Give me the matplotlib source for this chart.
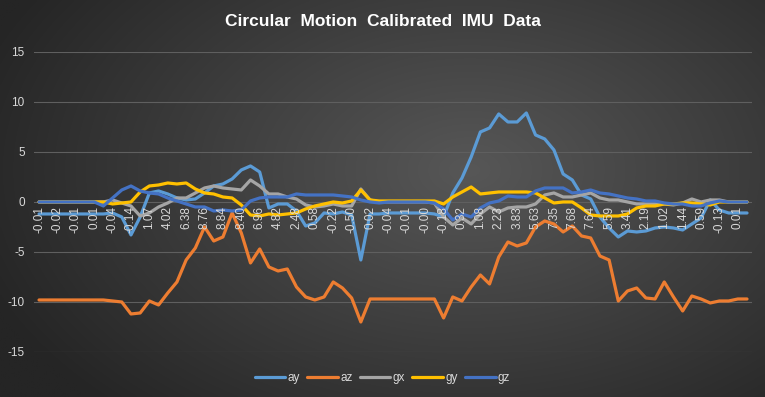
import numpy as np
import matplotlib
matplotlib.use("Agg")
import matplotlib.pyplot as plt

plt.rcParams['font.family'] = ['Liberation Sans', 'DejaVu Sans']

# ----------------------------
# Data
# ----------------------------
x_labels = ["-0.01", "-0.02", "-0.01", "0.01", "-0.04", "-0.14", "1.07", "4.02",
            "6.38", "8.76", "8.84", "8.40", "6.96", "4.82", "2.48", "0.58",
            "-0.22", "-0.50", "0.02", "-0.04", "-0.01", "-0.00", "-0.18", "0.32",
            "1.08", "2.23", "3.83", "5.63", "7.35", "7.68", "7.64", "5.59",
            "3.41", "2.19", "1.02", "1.44", "0.59", "-0.13", "0.01"]

ay = [-1.2, -1.2, -1.2, -1.2, -1.2, -1.2, -1.2, -1.2, -1.1, -1.5,
      -3.3, -1.5, 0.9, 1.1, 0.8, 0.4, 0.2, 0.3, 0.9, 1.6,
      1.8, 2.3, 3.2, 3.6, 3.0, -0.6, -0.2, -0.2, -0.9, -2.4,
      -2.1, -1.1, -1.2, -1.0, -1.3, -5.8, -1.2, -1.2, -1.1, -1.1,
      -1.1, -1.1, -1.1, -1.2, -1.5, 0.9, 2.4, 4.5, 7.0, 7.4,
      8.8, 8.0, 8.0, 8.9, 6.7, 6.3, 5.2, 2.8, 2.2, 0.7,
      0.3, -1.5, -2.6, -3.5, -2.9, -3.0, -2.9, -2.6, -2.5, -2.6,
      -2.8, -2.2, -1.6, 0.2, -0.8, -1.1, -1.1, -1.1]

az = [-9.8, -9.8, -9.8, -9.8, -9.8, -9.8, -9.8, -9.8, -9.9, -10.0,
      -11.2, -11.1, -9.9, -10.3, -9.1, -8.0, -5.8, -4.6, -2.5, -3.9,
      -3.5, -1.1, -3.1, -6.1, -4.7, -6.5, -6.9, -6.7, -8.5, -9.5,
      -9.8, -9.5, -8.0, -8.6, -9.6, -12.0, -9.7, -9.7, -9.7, -9.7,
      -9.7, -9.7, -9.7, -9.7, -11.6, -9.5, -9.9, -8.5, -7.3, -8.2,
      -5.5, -4.0, -4.4, -4.1, -2.5, -1.9, -2.2, -3.0, -2.4, -3.4,
      -3.6, -5.4, -5.8, -9.9, -8.9, -8.6, -9.6, -9.7, -8.0, -9.5,
      -10.9, -9.4, -9.7, -10.1, -9.9, -9.9, -9.7, -9.7]

gx = [0.0, 0.0, 0.0, 0.0, 0.0, 0.0, 0.0, 0.0, 0.2, -0.1,
      -0.4, -1.4, -1.1, -0.5, -0.1, 0.4, 0.4, 0.9, 1.4, 1.6,
      1.4, 1.3, 1.2, 2.2, 1.6, 0.8, 0.8, 0.5, 0.3, -0.3,
      -0.5, -0.4, -0.2, -0.4, -0.4, 1.3, 0.2, 0.0, 0.0, 0.0,
      0.0, 0.0, 0.0, -0.1, -1.5, -2.3, -1.6, -2.2, -1.2, -0.5,
      -1.0, -0.6, -0.5, -0.5, -0.2, 0.7, 0.9, 0.5, 0.5, 0.7,
      0.9, 0.4, 0.2, 0.2, 0.0, -0.2, -0.2, -0.2, -0.2, -0.3,
      -0.1, 0.3, 0.0, 0.2, 0.2, 0.0, 0.0, 0.0]

gy = [0.0, 0.0, 0.0, 0.0, 0.0, 0.0, 0.0, 0.0, -0.2, -0.1,
      0.0, 1.0, 1.6, 1.7, 1.9, 1.8, 1.9, 1.3, 0.9, 0.8,
      0.5, 0.4, -0.3, -1.3, -1.4, -1.2, -1.3, -1.2, -1.1, -0.7,
      -0.4, -0.2, 0.0, -0.1, 0.1, 1.2, 0.2, 0.1, 0.1, 0.1,
      0.1, 0.1, 0.1, 0.1, -0.2, 0.5, 1.0, 1.5, 0.8, 0.9,
      1.0, 1.0, 1.0, 1.0, 0.9, 0.4, -0.1, 0.0, 0.0, -0.6,
      -1.3, -1.4, -1.4, -1.4, -1.2, -0.6, -0.4, -0.4, -0.2, -0.2,
      -0.1, -0.1, -0.2, -0.3, 0.0, 0.0, 0.0, 0.0]

gz = [0.0, 0.0, 0.0, 0.0, 0.0, 0.0, 0.0, -0.4, 0.4, 1.2,
      1.6, 1.1, 0.9, 0.8, 0.4, 0.1, -0.2, -0.5, -0.5, -0.9,
      -0.8, -0.9, -0.8, 0.1, 0.4, 0.5, 0.5, 0.5, 0.8, 0.7,
      0.7, 0.7, 0.7, 0.6, 0.5, 0.2, 0.0, -0.1, 0.0, 0.0,
      0.0, 0.0, 0.0, -0.1, -0.7, -1.8, -1.2, -1.5, -0.6, -0.1,
      0.1, 0.6, 0.5, 0.5, 1.1, 1.4, 1.4, 1.4, 0.9, 1.0,
      1.2, 0.9, 0.8, 0.6, 0.4, 0.3, 0.1, 0.1, -0.1, -0.2,
      -0.2, -0.4, -0.4, -0.1, 0.1, 0.0, 0.0, 0.0]

series = [("ay", ay, "#5B9BD5"), ("az", az, "#ED7D31"), ("gx", gx, "#A5A5A5"),
          ("gy", gy, "#FFC000"), ("gz", gz, "#4472C4")]
y_ticks = [-15, -10, -5, 0, 5, 10, 15]

# ----------------------------
# Figure with radial gradient background
# ----------------------------
fig = plt.figure(figsize=(7.65, 3.97), dpi=100)

bg = fig.add_axes([0, 0, 1, 1], zorder=-5)
gx_, gy_ = np.meshgrid(np.linspace(0, 765, 400), np.linspace(0, 397, 220))
rr = np.sqrt(((gx_ - 470) / 520) ** 2 + ((gy_ - 170) / 330) ** 2)
rr = np.clip(rr, 0, 1)
light, dark = 0x57, 0x25
shade = (light - (light - dark) * rr) / 255.0
bg.imshow(np.dstack([shade, shade, shade]), extent=[0, 765, 397, 0],
          aspect="auto", interpolation="bilinear")
bg.axis("off")

ax = fig.add_axes([0.045, 0.1134, 0.9375, 0.7557])
ax.set_facecolor("none")
# move the category axis to y = 0 first (this resets tick labels)
ax.spines["bottom"].set_position(("data", 0))

x = np.arange(len(ay))
for yv in y_ticks:
    ax.axhline(yv, color="#5f5f5f", linewidth=0.8, zorder=1)

for name, vals, col in series:
    ax.plot(x, vals, color=col, linewidth=2.3, label=name,
            solid_joinstyle="round", solid_capstyle="round", zorder=2)

ax.set_xlim(-0.5, len(ay) - 0.5)
ax.set_ylim(-15, 15)
ax.set_yticks(y_ticks)
ax.set_yticklabels([str(v) for v in y_ticks], color="#d9d9d9", fontsize=8.5)
ax.set_xticks(x[::2])
ax.set_xticklabels(x_labels, rotation=90, color="#d9d9d9", fontsize=8.5)
for s in ["top", "right", "left", "bottom"]:
    ax.spines[s].set_visible(False)
ax.tick_params(axis="both", length=0)
ax.tick_params(axis="x", pad=3)
ax.tick_params(axis="y", pad=7)
ax.set_axisbelow(False)

fig.text(0.5, 0.947, "Circular  Motion  Calibrated  IMU  Data", ha="center",
         va="center", color="white", fontsize=12.5, fontweight="bold")

leg = fig.legend(loc="center", bbox_to_anchor=(0.5, 0.048), ncol=5,
                 frameon=False, fontsize=8.5, handlelength=2.6,
                 handletextpad=0.2, columnspacing=0.6)
for t in leg.get_texts():
    t.set_color("#d9d9d9")

fig.savefig("out.png", dpi=100)
